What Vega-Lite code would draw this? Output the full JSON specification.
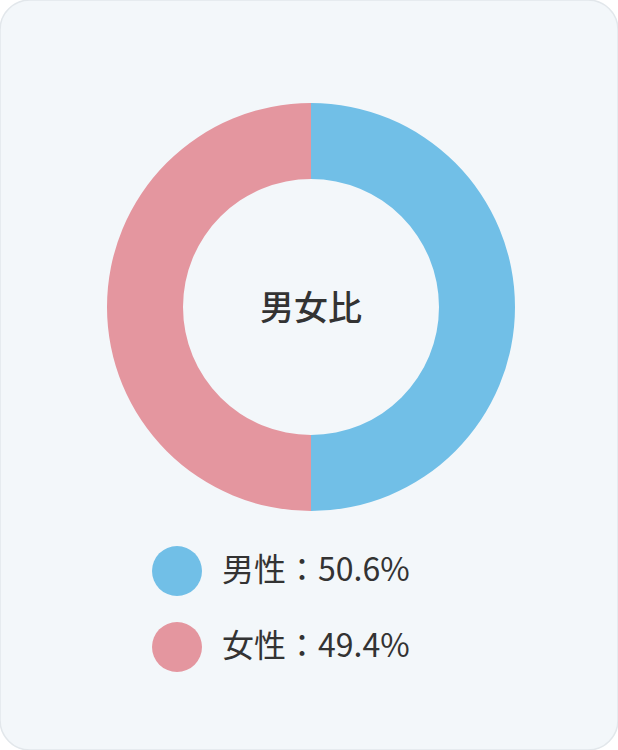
{
  "$schema": "https://vega.github.io/schema/vega-lite/v6.json",
  "width": 618,
  "height": 750,
  "autosize": {"type": "none"},
  "padding": 0,
  "background": "#ffffff",
  "config": {"view": {"stroke": null}},
  "layer": [
    {
      "data": {"values": [{"panel": "card"}]},
      "mark": {"type": "rect", "fill": "#f3f7fa", "stroke": "#e2e7eb", "strokeWidth": 1.5, "cornerRadius": 30},
      "encoding": {}
    },
    {
      "data": {"values": [
        {"gender": "男性", "label": "男性：50.6%", "share": 50},
        {"gender": "女性", "label": "女性：49.4%", "share": 50}
      ]},
      "mark": {"type": "arc", "radius": 204, "radius2": 128, "x": 311, "y": 307},
      "encoding": {
        "theta": {"field": "share", "type": "quantitative", "stack": true},
        "color": {
          "field": "label",
          "type": "nominal",
          "sort": ["男性：50.6%", "女性：49.4%"],
          "scale": {"domain": ["男性：50.6%", "女性：49.4%"], "range": ["#71bfe7", "#e4969f"]},
          "legend": {
            "title": null,
            "orient": "none",
            "legendX": 152,
            "legendY": 546,
            "direction": "vertical",
            "symbolType": "circle",
            "symbolSize": 2500,
            "symbolStrokeWidth": 0,
            "symbolOpacity": 1,
            "labelFont": "Noto Sans CJK JP",
            "labelFontSize": 32,
            "labelFontWeight": "normal",
            "labelColor": "#333333",
            "labelOffset": 20,
            "rowPadding": 26,
            "padding": 0,
            "labelLimit": 400
          }
        },
        "order": {"field": "share", "type": "quantitative"}
      }
    },
    {
      "data": {"values": [{"title": "男女比"}]},
      "mark": {"type": "text", "x": 311, "y": 310, "align": "center", "baseline": "middle", "font": "Noto Sans CJK JP", "fontSize": 34, "fontWeight": 500, "fill": "#333333"},
      "encoding": {"text": {"field": "title", "type": "nominal"}}
    }
  ]
}
